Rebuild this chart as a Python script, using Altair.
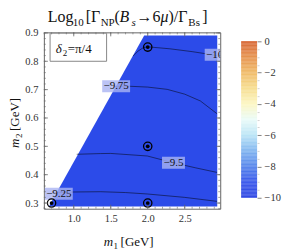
import altair as alt
import numpy as np
import pandas as pd

SERIF = "Liberation Serif"
BLUE = "#2c4be9"

# ---------------- data ----------------
# allowed region of the (m1, m2) plane (upper edge, lower edge)
edge_m1 = [0.664, 1.952, 2.94]
edge_m2 = [0.288, 0.891, 0.891]
floor_m2 = [0.288, 0.288, 0.288]

# contour lines of log10(ratio)
c1000_m1 = [1.80, 1.87, 1.94, 2.0, 2.30, 2.60, 2.80, 2.94]
c1000_m2 = [0.818, 0.836, 0.848, 0.851, 0.844, 0.834, 0.826, 0.819]
c975_m1 = [1.553, 1.746, 2.0, 2.263, 2.5, 2.712, 2.937]
c975_m2 = [0.711, 0.712, 0.709, 0.701, 0.684, 0.660, 0.615]
c950_m1 = [1.04, 1.364, 1.5, 1.993, 2.348, 2.65, 2.937]
c950_m2 = [0.472, 0.4745, 0.475, 0.466, 0.442, 0.424, 0.408]
c925_m1 = [0.72, 1.0, 1.364, 1.7, 1.993, 2.5, 2.937]
c925_m2 = [0.336, 0.339, 0.340, 0.337, 0.332, 0.320, 0.306]

# contour labels
lab_text = ["\u221210", "\u22129.75", "\u22129.5", "\u22129.25"]
lab_m1 = [2.905, 1.573, 2.348, 0.798]
lab_m2 = [0.823, 0.712, 0.442, 0.333]

# benchmark points
bm_m1 = [0.7, 2.0, 2.0, 2.0]
bm_m2 = [0.3, 0.3, 0.5, 0.85]

# frame ticks
x_major = [1.0, 1.5, 2.0, 2.5]
x_minor = [round(v, 2) for v in np.arange(0.6, 2.95, 0.1)]
y_major = [0.3, 0.4, 0.5, 0.6, 0.7, 0.8, 0.9]
y_minor = [round(v, 2) for v in np.arange(0.28, 0.905, 0.02)]

# colour bar
cb_stops = [-10, -9, -8, -7, -6, -5, -4, -3, -2, -1, 0]
cb_colors = ["#2a43e2", "#3150ea", "#4f80ea", "#7cb2ef", "#b7e3f6", "#e9fbf8",
             "#fcf6c0", "#f6dc8c", "#efb862", "#e58e48", "#d6612e"]
cb_ticks = [round(-10 + 0.5 * k, 1) for k in range(21)]

# inset / title text
inset_text = ["\u03b4", "2", "=\u03c0/4"]

# ---------------- helpers ----------------
W = H = 177
xscale = alt.Scale(domain=[0.596, 2.98], nice=False, zero=False)
yscale = alt.Scale(domain=[0.28, 0.902], nice=False, zero=False)
xaxis = alt.Axis(values=x_major, format=".1f", ticks=False, tickSize=0, domain=False,
                 grid=False, title=None, labelFont=SERIF, labelFontSize=10.5,
                 labelColor="#333", labelPadding=5)
yaxis = alt.Axis(values=y_major, format=".1f", ticks=False, tickSize=0, domain=False,
                 grid=False, title=None, labelFont=SERIF, labelFontSize=10.5,
                 labelColor="#333", labelPadding=6)
X = alt.X("m1:Q", scale=xscale, axis=xaxis)
Y = alt.Y("m2:Q", scale=yscale, axis=yaxis)


def txt(s, x, y, size, style="normal", angle=0):
    return alt.Chart(pd.DataFrame({"t": [s]})).mark_text(
        font=SERIF, fontSize=size, fontStyle=style, angle=angle,
        align="left", baseline="alphabetic", color="#111"
    ).encode(x=alt.value(x), y=alt.value(y), text="t:N")


# ---------------- main panel ----------------
region = alt.Chart(pd.DataFrame({"m1": edge_m1, "m2": edge_m2, "floor": floor_m2})).mark_area(
    color=BLUE, opacity=1, interpolate="linear"
).encode(x=X, y=Y, y2=alt.Y2("floor"))

rows = []
for lev, xs, ys in [("-10", c1000_m1, c1000_m2), ("-9.75", c975_m1, c975_m2),
                    ("-9.5", c950_m1, c950_m2), ("-9.25", c925_m1, c925_m2)]:
    for i, (a, b) in enumerate(zip(xs, ys)):
        rows.append({"level": lev, "i": i, "m1": a, "m2": b})
cont_df = pd.DataFrame(rows)
lines = alt.Chart(cont_df).mark_line(color="#000", opacity=0.55, strokeWidth=0.9, clip=True).encode(
    x=X, y=Y, detail="level:N", order="i:Q")

lab_df = pd.DataFrame({"t": lab_text, "m1": lab_m1, "m2": lab_m2})
box_layers = []
for i, w in enumerate([20, 28, 23, 28]):
    hh = round(12 / w, 3)
    box_layers.append(
        alt.Chart(lab_df.iloc[[i]]).mark_point(
            shape=f"M-1,-{hh}H1V{hh}H-1Z", size=w * w, filled=True, color="#aab4f2",
            opacity=0.8, strokeWidth=0, clip=True
        ).encode(x=X, y=Y)
    )
lab_txt = alt.Chart(lab_df).mark_text(font=SERIF, fontSize=11, color="#111", clip=True,
                                       baseline="middle").encode(x=X, y=Y, text="t:N")

bm_df = pd.DataFrame({"m1": bm_m1, "m2": bm_m2})
ring = alt.Chart(bm_df).mark_point(shape="circle", filled=False, size=70, strokeWidth=1.3,
                                   color="black", opacity=1).encode(x=X, y=Y)
dot = alt.Chart(bm_df).mark_point(shape="circle", filled=True, size=14, color="black",
                                  opacity=1).encode(x=X, y=Y)

inset_box = alt.Chart(pd.DataFrame({"m1": [0.68], "m1b": [1.444], "m2": [0.80], "m2b": [0.899]})).mark_rect(
    fill="white", stroke="#888", strokeWidth=1).encode(x=X, x2=alt.X2("m1b"), y=Y, y2=alt.Y2("m2b"))

TICK = "#666"
xmaj = pd.DataFrame({"m1": x_major})
xmin = pd.DataFrame({"m1": x_minor})
ymaj = pd.DataFrame({"m2": y_major})
ymin = pd.DataFrame({"m2": y_minor})
ticks = [
    alt.Chart(xmaj).mark_rule(color=TICK, strokeWidth=0.8).encode(x=X, y=alt.value(H), y2=alt.value(H - 4)),
    alt.Chart(xmin).mark_rule(color=TICK, strokeWidth=0.6).encode(x=X, y=alt.value(H), y2=alt.value(H - 2)),
    alt.Chart(xmaj).mark_rule(color=TICK, strokeWidth=0.8).encode(x=X, y=alt.value(0), y2=alt.value(4)),
    alt.Chart(xmin).mark_rule(color=TICK, strokeWidth=0.6).encode(x=X, y=alt.value(0), y2=alt.value(2)),
    alt.Chart(ymaj).mark_rule(color=TICK, strokeWidth=0.8).encode(y=Y, x=alt.value(0), x2=alt.value(4)),
    alt.Chart(ymin).mark_rule(color=TICK, strokeWidth=0.6).encode(y=Y, x=alt.value(0), x2=alt.value(2)),
    alt.Chart(ymaj).mark_rule(color=TICK, strokeWidth=0.8).encode(y=Y, x=alt.value(W), x2=alt.value(W - 4)),
    alt.Chart(ymin).mark_rule(color=TICK, strokeWidth=0.6).encode(y=Y, x=alt.value(W), x2=alt.value(W - 2)),
]

texts = [
    # title  Log10[Γ_NP(B_s→6μ)/Γ_Bs]
    txt("Log", 4, -10, 16), txt("10", 29, -6.5, 11), txt("[\u0393", 42, -10, 16),
    txt("NP", 57, -6.5, 11), txt("(", 71, -10, 16), txt("B", 76, -10, 16, "italic"),
    txt("s", 88, -6.5, 11, "italic"), txt("\u21926", 93, -10, 16),
    txt("\u03bc", 117, -10, 16, "italic"), txt(")/\u0393", 125, -10, 16),
    txt("Bs", 145, -6.5, 11), txt("]", 159, -10, 16),
    # x title
    txt("m", 60, 214, 13, "italic"), txt("1", 70, 217, 9), txt("[GeV]", 77, 214, 13),
    # y title
    txt("m", -25, 116, 13, "italic", 270), txt("2", -22, 106, 9, angle=270),
    txt("[GeV]", -25, 99, 13, angle=270),
    # inset
    txt(inset_text[0], 12, 21, 13, "italic"), txt(inset_text[1], 19, 24, 9),
    txt(inset_text[2], 24, 21, 13),
]

main = alt.layer(region, lines, *box_layers, lab_txt, ring, dot, inset_box, *ticks, *texts).properties(
    width=W, height=H)

# ---------------- colour bar ----------------
vals = [round(-10 + 0.05 * k, 3) for k in range(200)]
cb_df = pd.DataFrame({"v": vals})
cb_df["v2"] = cb_df["v"] + 0.06
cb_df["c"] = cb_df["v"] + 0.025
cb_axis = alt.Axis(
    orient="right", values=cb_ticks,
    labelExpr="datum.value % 2 === 0 ? format(datum.value, 'd') : ''",
    tickSize={"condition": {"test": "datum.value % 2 === 0", "value": 4}, "value": 2},
    tickColor={"condition": {"test": "datum.value % 2 === 0", "value": "#666"}, "value": "#c8c8c8"},
    tickWidth=0.8, domain=False, grid=False, title=None, labelFont=SERIF, labelFontSize=10.5,
    labelColor="#333", labelPadding=3, labelOverlap=False, labelFlush=False)
cb = alt.Chart(cb_df).mark_rect(strokeWidth=0).encode(
    y=alt.Y("v:Q", scale=alt.Scale(domain=[-10.7, 0.573], nice=False, zero=False), axis=cb_axis),
    y2=alt.Y2("v2"),
    color=alt.Color("c:Q", scale=alt.Scale(domain=cb_stops, range=cb_colors, interpolate="rgb"),
                    legend=None),
).properties(width=16, height=H, view=alt.ViewBackground(stroke="transparent"))

chart = alt.hconcat(main, cb, spacing=21, bounds="flush").properties(
    padding={"left": 0, "top": 0, "right": 2, "bottom": 2}
).configure_view(stroke="#666", strokeWidth=1)

chart.save("out.html", embed_options={"renderer": "svg", "actions": False})
